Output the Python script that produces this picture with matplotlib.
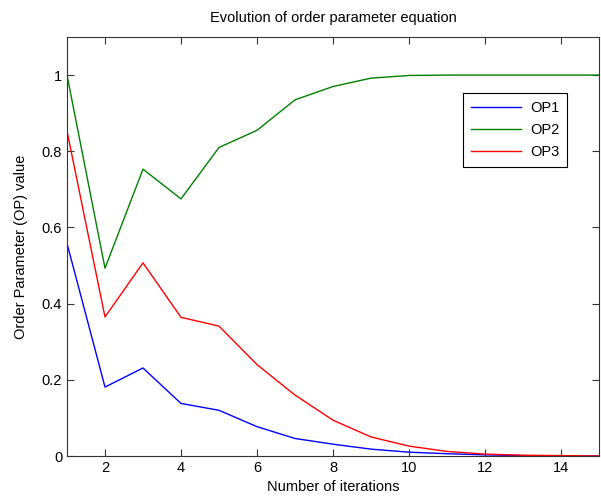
import numpy as np
import matplotlib
matplotlib.use("Agg")
import matplotlib.pyplot as plt

plt.rcParams['font.family'] = ['Liberation Sans', 'DejaVu Sans']

# iterations
iters = list(range(1, 16))

# order parameter values per iteration
op1 = [0.558, 0.181, 0.231, 0.138, 0.120, 0.077, 0.046, 0.031, 0.018, 0.010,
       0.006, 0.003, 0.001, 0.0, 0.0]
op2 = [1.0, 0.493, 0.753, 0.675, 0.810, 0.855, 0.935, 0.970, 0.992, 0.999,
       1.0, 1.0, 1.0, 1.0, 1.0]
op3 = [0.853, 0.365, 0.507, 0.364, 0.341, 0.240, 0.160, 0.094, 0.050, 0.026,
       0.012, 0.005, 0.002, 0.001, 0.0]

labels = ['OP1', 'OP2', 'OP3']
colors = ['#0000ff', '#008000', '#ff0000']

fig = plt.figure(figsize=(6.01, 4.97), dpi=100)
ax = fig.add_axes([67 / 601, 1 - 456 / 497, 532 / 601, 419 / 497])

for ys, lab, c in zip([op1, op2, op3], labels, colors):
    ax.plot(iters, ys, color=c, lw=1.0, label=lab)

ax.set_xlim(1, 15)
ax.set_ylim(0, 1.1)
ax.set_xticks([2, 4, 6, 8, 10, 12, 14])
ax.set_yticks([0, 0.2, 0.4, 0.6, 0.8, 1])
ax.set_yticklabels(['0', '0.2', '0.4', '0.6', '0.8', '1'])
ax.tick_params(direction='in', top=True, right=True, length=5, labelsize=10.5,
               color='#333333')
for s in ax.spines.values():
    s.set_color('#333333')

ax.set_title('Evolution of order parameter equation', fontsize=10.5, pad=11)
ax.set_xlabel('Number of iterations', fontsize=10.5, labelpad=4)
ax.set_ylabel('Order Parameter (OP) value', fontsize=10.5, labelpad=10)

leg = ax.legend(loc='upper right', bbox_to_anchor=(0.94, 0.866), borderaxespad=0,
                fancybox=False, edgecolor='black', framealpha=1, fontsize=10.5,
                handlelength=3.4, handletextpad=0.6, borderpad=0.55,
                labelspacing=0.55)
leg.get_frame().set_linewidth(0.8)

fig.savefig('out.png', dpi=100)
